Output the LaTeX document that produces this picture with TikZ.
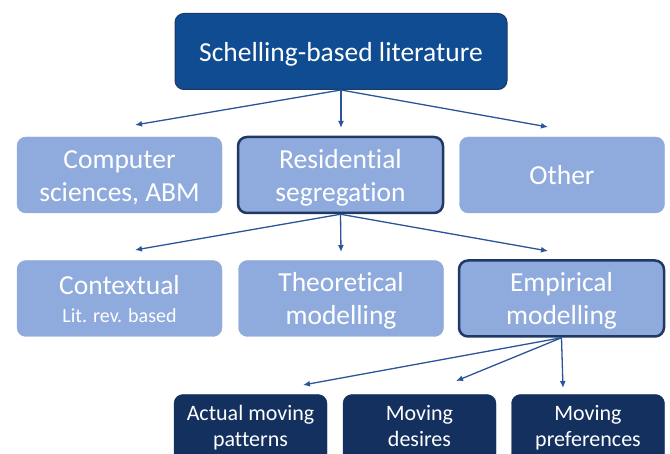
\documentclass[tikz,border=0pt]{standalone}
\usepackage{fontspec}
\setmainfont[Ligatures=NoCommon]{Carlito}
\usepackage{xcolor}
\usetikzlibrary{arrows.meta}
\definecolor{topblue}{HTML}{104C92}
\definecolor{lightblue}{HTML}{8FAADC}
\definecolor{navy}{HTML}{14305F}
\definecolor{edgeblue}{HTML}{1F3864}
\definecolor{arrowblue}{HTML}{2A5599}
\newcommand{\hd}{\rule{0pt}{29pt}}
\tikzset{box/.style={draw, rounded corners=9pt, text=white, align=center,
  inner sep=0pt, minimum height=76pt, execute at end node=\strut},
 lit/.style={box, fill=topblue, draw=edgeblue, line width=1pt,
  minimum width=332pt, font=\fontsize{27.5}{33}\selectfont,
  execute at begin node=\hd},
 topic/.style={box, fill=lightblue, draw=lightblue, minimum width=205pt,
  font=\fontsize{27.5}{33}\selectfont, execute at begin node=\hd},
 focus/.style={topic, draw=edgeblue, line width=2.5pt},
 leaf/.style={box, fill=navy, draw=navy, minimum width=153pt,
  minimum height=68pt, font=\fontsize{22}{26}\selectfont,
  execute at begin node=\strut},
 link/.style={draw=arrowblue, line width=1.3pt, -{Latex[length=7pt,width=6pt]}},
 }

\begin{document}
\begin{tikzpicture}[x=1pt,y=-1pt]
        \clip (0,0) rectangle (670,454);
        \node[lit] (schelling) at (341,51.5) {Schelling-based literature};

        \node[topic] (comp) at (119.5,175) {\hd Computer\\sciences, ABM};
        \node[focus] (resid) at (340.5,175) {\hd Residential\\segregation};
        \node[topic] (other) at (562,175) {Other};

        \node[topic] (context) at (119.5,298.5) {\hd Contextual\\[-5pt]{\fontsize{20}{24}\selectfont Lit. rev. based}};
        \node[topic] (theory) at (341,298.5) {\hd Theoretical\\modelling};
        \node[focus] (empir) at (561.5,298.5) {\hd Empirical\\modelling};

        \node[leaf] (actual) at (250.5,428.5) {\strut Actual moving\\patterns};
        \node[leaf] (desire) at (419.5,428.5) {\strut Moving\\desires};
        \node[leaf] (prefer) at (588,428.5) {\strut Moving\\preferences};

        \coordinate (tocomp) at (135,125);
        \coordinate (toresid) at (341,128);
        \coordinate (toother) at (548,127);
        \draw[link] (schelling.south) -- (tocomp);
        \draw[link] (schelling.south) -- (toresid);
        \draw[link] (schelling.south) -- (toother);

        \coordinate (tocontext) at (135,250);
        \coordinate (totheory) at (341,252);
        \coordinate (toempir) at (548,251);
        \draw[link] (resid.south) -- (tocontext);
        \draw[link] (resid.south) -- (totheory);
        \draw[link] (resid.south) -- (toempir);

        \coordinate (toactual) at (303,385);
        \coordinate (todesire) at (456,381);
        \coordinate (toprefer) at (563,388);
        \draw[link] (empir.south) -- (toactual);
        \draw[link] (empir.south) -- (todesire);
        \draw[link] (empir.south) -- (toprefer);
    \end{tikzpicture}
\end{document}
